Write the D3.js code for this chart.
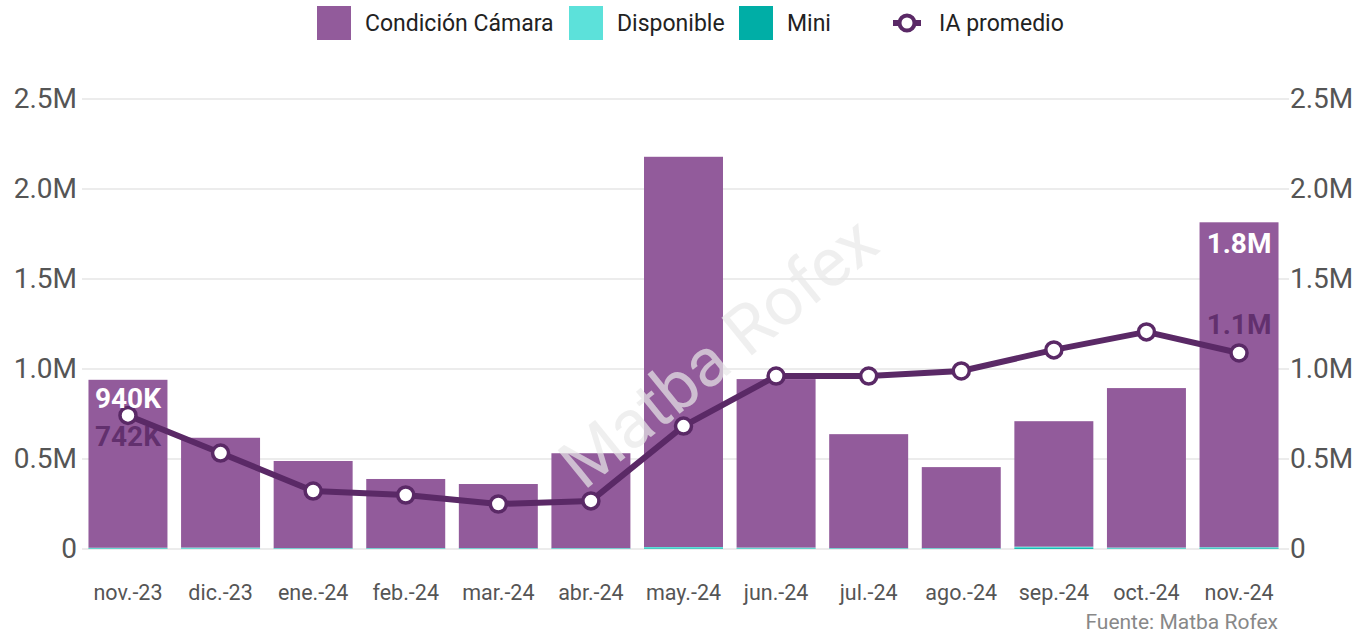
<!DOCTYPE html>
<html>
<head>
<meta charset="utf-8">
<script src="https://cdn.jsdelivr.net/npm/d3@7"></script>
<style>
  body { margin: 0; background: #fff; }
  text { font-family: Roboto, "Noto Sans", sans-serif; }
</style>
</head>
<body>
<svg id="chart" width="1361" height="636"></svg>
<script>
// data
var months = ["nov.-23", "dic.-23", "ene.-24", "feb.-24", "mar.-24", "abr.-24", "may.-24",
              "jun.-24", "jul.-24", "ago.-24", "sep.-24", "oct.-24", "nov.-24"];
var camara = [933000, 610000, 484000, 384000, 356000, 527000, 2168000, 936000, 633000, 450000, 697000, 886000, 1805000];
var disponible = [4000, 6000, 3000, 3000, 3000, 3000, 7000, 5000, 3000, 3000, 8000, 5000, 6000];
var mini = [3000, 2000, 2000, 2000, 2000, 2000, 4000, 3000, 2000, 2000, 5000, 3000, 4000];
var iaPromedio = [742000, 533000, 322000, 300000, 250000, 267000, 683000, 961000, 961000, 989000, 1106000, 1206000, 1089000];
var yTicks = [0, 500000, 1000000, 1500000, 2000000, 2500000];

var keys = ["camara", "disponible", "mini"];
var stackOrder = ["mini", "disponible", "camara"]; // small ones sit at the bottom
var keyLabels = {camara: "Condición Cámara", disponible: "Disponible", mini: "Mini"};
var colors = {camara: "#925b9b", disponible: "#5ce1da", mini: "#00aea6"};
var lineColor = "#5a2966";

var svg = d3.select("#chart"),
    margin = {top: 99, right: 76, bottom: 87, left: 82},
    width = +svg.attr("width") - margin.left - margin.right,
    height = +svg.attr("height") - margin.top - margin.bottom,
    g = svg.append("g").attr("transform", "translate(" + margin.left + "," + margin.top + ")");

var rows = months.map(function(m, i) {
  return {month: m, camara: camara[i], disponible: disponible[i], mini: mini[i], ia: iaPromedio[i]};
});

var x = d3.scaleBand().domain(months).range([0, width]).paddingInner(0.147).paddingOuter(0.07);
var y = d3.scaleLinear().domain([0, 2500000]).range([height, 0]);
var y2 = d3.scaleLinear().domain([0, 2500000]).range([height, 0]);

function fmt(v) {
  if (v === 0) return "0";
  return d3.format(".1f")(v / 1e6) + "M";
}

// gridlines
g.append("g").selectAll("line").data(yTicks).enter().append("line")
  .attr("x1", 0).attr("x2", width + 4)
  .attr("y1", function(d) { return y(d); }).attr("y2", function(d) { return y(d); })
  .attr("stroke", "#e6e6e6").attr("stroke-width", 1.5);

// watermark
svg.append("text")
  .attr("transform", "translate(718,352) rotate(-39)")
  .attr("text-anchor", "middle").attr("dy", "0.35em")
  .attr("font-size", 68).attr("fill", "#e8e8e8").attr("fill-opacity", 0.7)
  .text("Matba Rofex");

// stacked bars
var stack = d3.stack().keys(stackOrder)(rows);
g.append("g").selectAll("g").data(stack).enter().append("g")
  .attr("fill", function(d) { return colors[d.key]; })
  .selectAll("rect").data(function(d) { return d; }).enter().append("rect")
    .attr("x", function(d) { return x(d.data.month); })
    .attr("width", x.bandwidth())
    .attr("y", function(d) { return y(d[1]); })
    .attr("height", function(d) { return y(d[0]) - y(d[1]); });

// axes
var leftAxis = g.append("g").call(d3.axisLeft(y).tickValues(yTicks).tickFormat(fmt).tickSize(0).tickPadding(5));
var rightAxis = g.append("g").attr("transform", "translate(" + width + ",0)")
  .call(d3.axisRight(y2).tickValues(yTicks).tickFormat(fmt).tickSize(0).tickPadding(5));
var bottomAxis = g.append("g").attr("transform", "translate(0," + height + ")")
  .call(d3.axisBottom(x).tickSize(0).tickPadding(36));
[leftAxis, rightAxis].forEach(function(a) {
  a.select(".domain").remove();
  a.selectAll("text").attr("font-size", 28).attr("fill", "#555").style("font-family", "Roboto");
});
bottomAxis.select(".domain").remove();
bottomAxis.selectAll("text").attr("font-size", 21.5).attr("fill", "#555").style("font-family", "Roboto");

// line
var line = d3.line()
  .x(function(d) { return x(d.month) + x.bandwidth() / 2; })
  .y(function(d) { return y2(d.ia); });
g.append("path").datum(rows)
  .attr("fill", "none").attr("stroke", lineColor).attr("stroke-width", 6)
  .attr("stroke-linejoin", "round").attr("d", line);
g.append("g").selectAll("circle").data(rows).enter().append("circle")
  .attr("cx", function(d) { return x(d.month) + x.bandwidth() / 2; })
  .attr("cy", function(d) { return y2(d.ia); })
  .attr("r", 8).attr("fill", "#fff").attr("stroke", lineColor).attr("stroke-width", 3.5);

// value labels on first and last month
var first = rows[0], last = rows[rows.length - 1];
function total(d) { return d.camara + d.disponible + d.mini; }
function kfmt(v) { return v >= 1e6 ? d3.format(".1f")(v / 1e6) + "M" : Math.round(v / 1000) + "K"; }

g.append("text")
  .attr("x", x(first.month) + x.bandwidth() / 2).attr("y", y(total(first)) + 28)
  .attr("text-anchor", "middle").attr("font-size", 28).attr("font-weight", "bold").attr("fill", "#fff")
  .text(kfmt(total(first)));
g.append("text")
  .attr("x", x(first.month) + x.bandwidth() / 2).attr("y", y2(first.ia) + 31)
  .attr("text-anchor", "middle").attr("font-size", 28).attr("font-weight", "bold").attr("fill", "#5a2966").attr("fill-opacity", 0.85)
  .text(kfmt(first.ia));
g.append("text")
  .attr("x", x(last.month) + x.bandwidth() / 2).attr("y", y(total(last)) + 31)
  .attr("text-anchor", "middle").attr("font-size", 28).attr("font-weight", "bold").attr("fill", "#fff")
  .text(kfmt(total(last)));
g.append("text")
  .attr("x", x(last.month) + x.bandwidth() / 2).attr("y", y2(last.ia) - 19)
  .attr("text-anchor", "middle").attr("font-size", 28).attr("font-weight", "bold").attr("fill", "#5a2966").attr("fill-opacity", 0.85)
  .text(kfmt(last.ia));

// source
svg.append("text")
  .attr("x", 1278).attr("y", 629).attr("text-anchor", "end")
  .attr("font-size", 21).attr("fill", "#888").text("Fuente: Matba Rofex");

// legend
var legendX = {camara: 317, disponible: 569, mini: 739};
var legend = svg.append("g");
keys.forEach(function(k) {
  legend.append("rect").attr("x", legendX[k]).attr("y", 6).attr("width", 34).attr("height", 34).attr("fill", colors[k]);
  legend.append("text").attr("x", legendX[k] + 48).attr("y", 23).attr("dy", "0.35em")
    .attr("font-size", 23).attr("fill", "#222").text(keyLabels[k]);
});
legend.append("line").attr("x1", 893).attr("x2", 921).attr("y1", 23).attr("y2", 23)
  .attr("stroke", lineColor).attr("stroke-width", 6);
legend.append("circle").attr("cx", 907).attr("cy", 23).attr("r", 7.5)
  .attr("fill", "#fff").attr("stroke", lineColor).attr("stroke-width", 4);
legend.append("text").attr("x", 939).attr("y", 23).attr("dy", "0.35em")
  .attr("font-size", 23).attr("fill", "#222").text("IA promedio");
</script>
</body>
</html>
